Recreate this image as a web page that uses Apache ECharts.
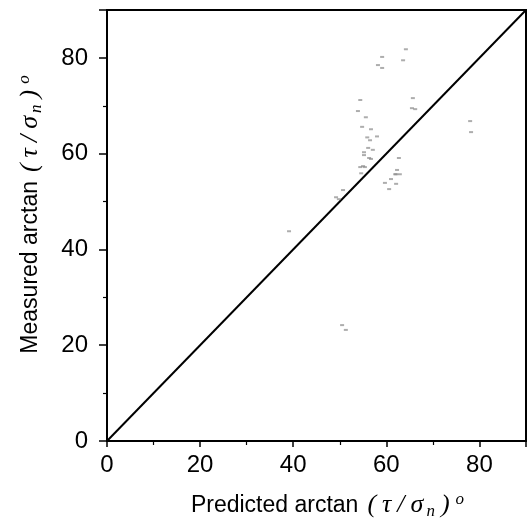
<!DOCTYPE html>
<html>
<head>
<meta charset="utf-8">
<script src="https://cdn.jsdelivr.net/npm/echarts@6/dist/echarts.min.js"></script>
<style>
  html, body { margin: 0; padding: 0; background: #fff; }
  #chart { width: 529px; height: 520px; }
</style>
</head>
<body>
<div id="chart"></div>
<script>
// Predicted vs measured friction angle arctan(tau/sigma_n), degrees
const predicted = [
  64.2, 63.6, 59.1, 58.2, 59.1, 54.4, 53.9, 55.6, 54.8, 56.7,
  58.0, 55.9, 56.5, 56.1, 57.1, 55.2, 56.3, 62.7, 54.4, 62.3,
  62.1, 61.0, 65.7, 65.5, 66.2, 78.0, 78.2, 55.2, 56.7, 55.0,
  55.4, 54.6, 61.9, 62.9, 62.1, 59.7, 60.6, 50.7, 49.2, 49.8,
  50.5, 51.3, 39.1
];
const measured = [
  81.8, 79.5, 80.2, 78.5, 77.9, 71.2, 68.9, 67.6, 65.6, 65.1,
  63.6, 63.4, 62.8, 61.2, 60.8, 59.7, 59.1, 59.1, 57.2, 56.6,
  55.7, 54.7, 71.6, 69.5, 69.3, 66.8, 64.5, 60.3, 58.9, 57.4,
  57.2, 55.9, 55.7, 55.7, 53.7, 53.9, 52.6, 52.4, 50.9, 50.5,
  24.2, 23.2, 43.8
];
// 1:1 reference line
const equalityLine = [[0, 0], [90, 90]];
const axisMin = 0;
const axisMax = 90;
const tickStep = 20;

const points = predicted.map((p, i) => [p, measured[i]]);

const sans = '"Liberation Sans", Arial, sans-serif';
const serif = '"Liberation Serif", "DejaVu Serif", serif';
const mathGlyph = { fontFamily: serif, fontStyle: 'italic', fontSize: 26, color: '#000', padding: [0, 3, 0, 3] };
const nameRich = {
  a: { fontFamily: sans, fontSize: 23, color: '#000', padding: [0, 6, 0, 0] },
  b: mathGlyph,
  s: { fontFamily: serif, fontStyle: 'italic', fontSize: 17, color: '#000', verticalAlign: 'bottom', padding: [12, 3, 0, 0] },
  o: { fontFamily: serif, fontStyle: 'italic', fontSize: 17, color: '#000', verticalAlign: 'top', padding: [0, 0, 12, 3] }
};
const nameText = (lead) =>
  '{a|' + lead + '}{b|(}{b|τ}{b|/}{b|σ}{s|n}{b|)}{o|o}';

const axisCommon = {
  type: 'value',
  min: axisMin,
  max: axisMax,
  interval: tickStep,
  nameLocation: 'middle',
  axisLine: { show: true, lineStyle: { color: '#000', width: 2 } },
  axisTick: { show: true, length: 6, lineStyle: { color: '#000', width: 1.5 } },
  minorTick: { show: true, splitNumber: 2, length: 4, lineStyle: { color: '#000', width: 1.2 } },
  splitLine: { show: false },
  axisLabel: { color: '#000', fontFamily: sans, fontSize: 24, showMaxLabel: false }
};

const chart = echarts.init(document.getElementById('chart'), null, { renderer: 'canvas' });
chart.setOption({
  backgroundColor: '#fff',
  animation: false,
  grid: {
    left: 107, right: 3, top: 10, bottom: 79,
    containLabel: false,
    outerBoundsMode: 'none',
    show: true, borderColor: '#000', borderWidth: 2, backgroundColor: 'transparent'
  },
  xAxis: Object.assign({}, axisCommon, {
    name: nameText('Predicted arctan'),
    nameGap: 50,
    nameTextStyle: { rich: nameRich, padding: [0, 0, 0, 22] },
    axisLabel: Object.assign({}, axisCommon.axisLabel, { margin: 12 })
  }),
  yAxis: Object.assign({}, axisCommon, {
    name: nameText('Measured arctan'),
    nameGap: 62,
    nameTextStyle: { rich: nameRich, padding: [0, 0, 0, 22] },
    axisTick: Object.assign({}, axisCommon.axisTick, { length: 8 }),
    minorTick: Object.assign({}, axisCommon.minorTick, { length: 4 }),
    axisLabel: Object.assign({}, axisCommon.axisLabel, { margin: 19 })
  }),
  series: [
    {
      type: 'line',
      data: equalityLine,
      symbol: 'none',
      lineStyle: { color: '#000', width: 2 },
      z: 3
    },
    {
      type: 'scatter',
      data: points,
      symbol: 'rect',
      symbolSize: [4, 2],
      itemStyle: { color: '#8a8a8a', opacity: 0.7 },
      z: 4
    }
  ]
});
</script>
</body>
</html>
